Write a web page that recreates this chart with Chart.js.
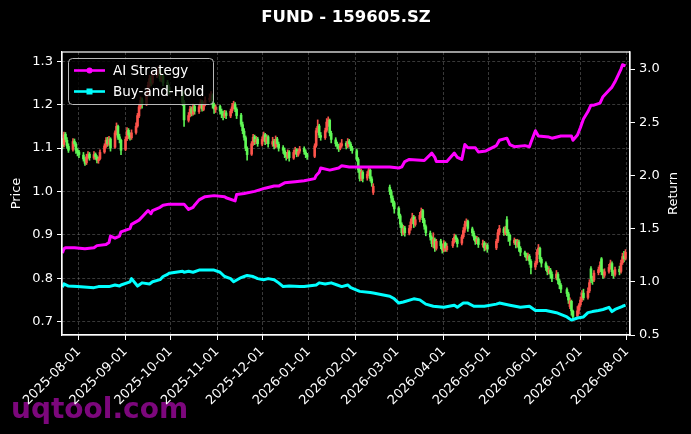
<!DOCTYPE html>
<html><head><meta charset="utf-8">
<script src="https://cdn.jsdelivr.net/npm/chart.js@4.4.1/dist/chart.umd.min.js"></script>
<style>html,body{margin:0;padding:0;background:#000;overflow:hidden}canvas{display:block}</style>
</head><body>
<div style="width:691px;height:434px"><canvas id="c" width="691" height="434"></canvas></div>
<script>
const chartTitle = 'FUND - 159605.SZ';
const watermark = 'uqtool.com';
const monthTicks = ['2025-08-01','2025-09-01','2025-10-01','2025-11-01','2025-12-01','2026-01-01','2026-02-01','2026-03-01','2026-04-01','2026-05-01','2026-06-01','2026-07-01','2026-08-01'];
const priceTicks = [0.7,0.8,0.9,1.0,1.1,1.2,1.3];
const returnTicks = [0.5,1.0,1.5,2.0,2.5,3.0];
const firstDay = '2025-07-21', lastDay = '2026-07-31';
const holidays = ['2025-10-01','2025-10-02','2025-10-03','2025-10-06','2025-10-07','2025-10-08','2026-01-01','2026-01-02','2026-02-16','2026-02-17','2026-02-18','2026-02-19','2026-02-20','2026-02-23','2026-04-06','2026-05-01','2026-05-04','2026-05-05','2026-06-19'];

const open = [
1.115,1.108,1.132,1.118,1.104, 1.097,1.116,1.109,1.094,1.091, 1.084,1.074,1.066,1.079,1.086, 1.077,1.086,1.079,1.071,1.076,
1.091,1.104,1.119,1.109,1.121, 1.102,1.134,1.150,1.126,1.118, 1.097,1.121,1.141,1.129,1.124, 1.136,1.151,1.174,1.196,1.211,
1.201,1.226,1.244,1.261,1.251, 1.268,1.271,1.281,1.259,1.266, 1.251,1.241, 1.228,1.206,
1.164,1.176,1.191,1.179,1.196, 1.184,1.196,1.206,1.189,1.201, 1.211,1.216,1.221,1.199,1.189, 1.196,1.184,1.179,1.174,1.181,
1.174,1.186,1.196,1.201,1.189, 1.176,1.154,1.139,1.124,1.099, 1.086,1.111,1.126,1.114,1.121, 1.109,1.121,1.131,1.114,1.126,
1.109,1.116,1.104,1.121,1.109, 1.101,1.094,1.084,1.079,1.091, 1.077,1.091,1.096,1.084,1.093, 1.099,1.091,1.084,
1.081,1.106,1.141,1.151,1.129, 1.124,1.141,1.161,1.164,1.134, 1.119,1.109,1.104,1.099,1.106, 1.111,1.104,1.116,1.109,1.099,
1.094,1.074,1.049,1.029,1.044, 1.031,1.041,1.049,1.029,0.998, 1.010,0.999,0.984,0.974,
0.961,0.944,0.924,0.904,0.916, 0.904,0.916,0.931,0.941,0.924, 0.936,0.946,0.956,0.934,0.919, 0.904,0.894,0.879,0.889,0.869,
0.886,0.874,0.864,0.881,0.866, 0.875,0.886,0.896,0.889, 0.881,0.896,0.911,0.926,0.931, 0.914,0.904,0.894,0.884,0.891,
0.877,0.881,0.869,0.876, 0.870,0.886,0.906, 0.914,0.904,0.935,0.906,0.899, 0.882,0.887,0.877,0.884,0.869,
0.859,0.854,0.847,0.851,0.839, 0.826,0.836,0.861,0.869,0.844, 0.834,0.824,0.814,0.819,0.809, 0.801,0.809,0.794,0.784,
0.774,0.764,0.735,0.747,0.724, 0.713,0.726,0.739,0.751,0.766, 0.756,0.771,0.822,0.799,0.796, 0.813,0.821,0.845,0.814,0.807,
0.816,0.826,0.834,0.814,0.809, 0.821,0.816,0.836,0.851,0.846];
const high = [
1.122,1.137,1.136,1.124,1.110, 1.122,1.121,1.113,1.099,1.095, 1.090,1.078,1.086,1.092,1.090, 1.092,1.089,1.083,1.080,1.096,
1.110,1.124,1.125,1.127,1.124, 1.140,1.158,1.153,1.132,1.121, 1.126,1.147,1.145,1.135,1.142, 1.158,1.180,1.202,1.218,1.216,
1.230,1.252,1.268,1.266,1.277, 1.278,1.288,1.284,1.272,1.270, 1.256,1.246, 1.232,1.210,
1.182,1.196,1.195,1.202,1.200, 1.200,1.212,1.210,1.207,1.218, 1.225,1.230,1.225,1.204,1.200, 1.199,1.190,1.185,1.187,1.186,
1.190,1.203,1.208,1.205,1.193, 1.180,1.160,1.145,1.128,1.103, 1.115,1.132,1.130,1.127,1.125, 1.126,1.137,1.134,1.131,1.129,
1.125,1.120,1.128,1.125,1.114, 1.106,1.100,1.090,1.096,1.094, 1.096,1.102,1.099,1.098,1.104, 1.103,1.096,1.088,
1.110,1.146,1.165,1.155,1.136, 1.146,1.168,1.172,1.167,1.139, 1.124,1.114,1.109,1.112,1.120, 1.115,1.122,1.120,1.113,1.104,
1.098,1.078,1.054,1.052,1.048, 1.046,1.056,1.052,1.034,1.018, 1.015,1.004,0.990,0.978,
0.965,0.948,0.928,0.922,0.920, 0.922,0.937,0.950,0.945,0.942, 0.952,0.962,0.959,0.938,0.923, 0.909,0.898,0.905,0.893,0.890,
0.890,0.879,0.887,0.884,0.880, 0.892,0.902,0.900,0.893, 0.900,0.917,0.932,0.937,0.934, 0.918,0.909,0.898,0.897,0.894,
0.888,0.885,0.882,0.880, 0.890,0.912,0.922, 0.918,0.920,0.942,0.912,0.902, 0.893,0.890,0.890,0.888,0.873,
0.863,0.858,0.858,0.855,0.843, 0.840,0.866,0.878,0.872,0.848, 0.838,0.829,0.827,0.823,0.815, 0.818,0.813,0.798,0.788,
0.778,0.768,0.755,0.750,0.727, 0.735,0.742,0.757,0.772,0.775, 0.778,0.797,0.827,0.805,0.818, 0.826,0.838,0.848,0.820,0.822,
0.832,0.842,0.838,0.818,0.826, 0.828,0.842,0.858,0.862,0.866];
const low = [
1.098,1.103,1.114,1.099,1.090, 1.093,1.104,1.088,1.082,1.078, 1.070,1.060,1.062,1.075,1.072, 1.074,1.074,1.066,1.065,1.073,
1.088,1.100,1.104,1.106,1.093, 1.099,1.130,1.120,1.112,1.085, 1.094,1.117,1.122,1.118,1.120, 1.132,1.148,1.170,1.190,1.192,
1.198,1.220,1.240,1.243,1.247, 1.262,1.266,1.254,1.253,1.244, 1.234,1.224, 1.198,1.150,
1.160,1.172,1.174,1.176,1.178, 1.180,1.192,1.185,1.186,1.197, 1.206,1.210,1.192,1.180,1.182, 1.178,1.170,1.165,1.170,1.168,
1.170,1.181,1.190,1.184,1.168, 1.150,1.133,1.118,1.094,1.072, 1.083,1.106,1.108,1.110,1.104, 1.105,1.116,1.108,1.110,1.102,
1.104,1.098,1.100,1.103,1.093, 1.088,1.078,1.072,1.076,1.070, 1.074,1.087,1.080,1.081,1.088, 1.086,1.078,1.074,
1.078,1.102,1.136,1.124,1.118, 1.120,1.137,1.150,1.128,1.112, 1.104,1.098,1.092,1.096,1.102, 1.098,1.101,1.104,1.094,1.088,
1.070,1.044,1.024,1.025,1.022, 1.026,1.036,1.024,1.012,0.993, 0.993,0.975,0.966,0.950,
0.938,0.917,0.898,0.900,0.897, 0.900,0.911,0.926,0.917,0.920, 0.930,0.940,0.928,0.913,0.898, 0.888,0.873,0.870,0.862,0.865,
0.868,0.858,0.861,0.862,0.862, 0.871,0.881,0.884,0.872, 0.877,0.892,0.906,0.920,0.908, 0.898,0.888,0.878,0.880,0.871,
0.872,0.863,0.865,0.860, 0.866,0.882,0.900, 0.899,0.900,0.898,0.885,0.876, 0.878,0.870,0.872,0.862,0.852,
0.849,0.841,0.842,0.832,0.810, 0.820,0.832,0.855,0.838,0.826, 0.818,0.808,0.810,0.800,0.792, 0.797,0.787,0.776,0.767,
0.758,0.742,0.730,0.715,0.705, 0.710,0.718,0.735,0.746,0.750, 0.752,0.767,0.790,0.786,0.792, 0.808,0.816,0.808,0.800,0.802,
0.812,0.821,0.806,0.800,0.805, 0.808,0.812,0.832,0.838,0.842];
const close = [
1.105,1.130,1.120,1.105,1.095, 1.115,1.110,1.095,1.090,1.085, 1.075,1.065,1.080,1.085,1.078, 1.085,1.080,1.072,1.075,1.090,
1.105,1.118,1.110,1.120,1.100, 1.135,1.150,1.125,1.120,1.095, 1.120,1.140,1.130,1.125,1.135, 1.150,1.175,1.195,1.210,1.200,
1.225,1.245,1.260,1.250,1.270, 1.270,1.280,1.260,1.265,1.250, 1.240,1.230, 1.205,1.165,
1.175,1.190,1.180,1.195,1.185, 1.195,1.205,1.190,1.200,1.210, 1.215,1.220,1.200,1.190,1.195, 1.185,1.180,1.175,1.180,1.175,
1.185,1.195,1.200,1.190,1.175, 1.155,1.140,1.125,1.100,1.085, 1.110,1.125,1.115,1.120,1.110, 1.120,1.130,1.115,1.125,1.110,
1.115,1.105,1.120,1.110,1.100, 1.095,1.085,1.080,1.090,1.078, 1.090,1.095,1.085,1.092,1.098, 1.092,1.085,1.080,
1.105,1.140,1.150,1.130,1.125, 1.140,1.160,1.165,1.135,1.120, 1.110,1.105,1.100,1.105,1.110, 1.105,1.115,1.110,1.100,1.095,
1.075,1.050,1.030,1.045,1.030, 1.040,1.050,1.030,1.020,1.012, 1.000,0.985,0.975,0.960,
0.945,0.925,0.905,0.915,0.905, 0.915,0.930,0.940,0.925,0.935, 0.945,0.955,0.935,0.920,0.905, 0.895,0.880,0.890,0.870,0.885,
0.875,0.865,0.880,0.870,0.874, 0.885,0.895,0.890,0.880, 0.895,0.910,0.925,0.930,0.915, 0.905,0.895,0.885,0.890,0.878,
0.880,0.870,0.875,0.868, 0.885,0.905,0.915, 0.905,0.915,0.905,0.900,0.888, 0.888,0.878,0.885,0.870,0.860,
0.855,0.848,0.852,0.840,0.825, 0.835,0.860,0.870,0.845,0.835, 0.825,0.815,0.820,0.810,0.800, 0.810,0.795,0.785,0.775,
0.765,0.750,0.748,0.725,0.712, 0.725,0.738,0.750,0.765,0.755, 0.770,0.790,0.800,0.795,0.812, 0.820,0.830,0.815,0.808,0.815,
0.825,0.835,0.815,0.810,0.820, 0.815,0.835,0.850,0.845,0.860];

const aiDates = ['2025-07-21','2025-07-22','2025-07-23','2025-07-29','2025-08-05','2025-08-11','2025-08-13','2025-08-19','2025-08-21','2025-08-22','2025-08-25','2025-08-28','2025-08-29','2025-09-04','2025-09-05','2025-09-10','2025-09-12','2025-09-16','2025-09-18','2025-09-19','2025-09-24','2025-09-26','2025-09-30','2025-10-10','2025-10-13','2025-10-16','2025-10-17','2025-10-20','2025-10-24','2025-10-30','2025-11-06','2025-11-07','2025-11-13','2025-11-14','2025-11-19','2025-11-26','2025-12-03','2025-12-09','2025-12-12','2025-12-16','2025-12-23','2025-12-29','2026-01-05','2026-01-06','2026-01-08','2026-01-09','2026-01-15','2026-01-21','2026-01-23','2026-01-28','2026-02-04','2026-02-13','2026-02-24','2026-03-02','2026-03-04','2026-03-06','2026-03-09','2026-03-19','2026-03-24','2026-03-26','2026-03-27','2026-04-03','2026-04-08','2026-04-10','2026-04-13','2026-04-15','2026-04-17','2026-04-22','2026-04-24','2026-04-29','2026-05-06','2026-05-08','2026-05-13','2026-05-15','2026-05-18','2026-05-25','2026-05-28','2026-05-29','2026-06-01','2026-06-03','2026-06-10','2026-06-12','2026-06-18','2026-06-25','2026-06-26','2026-06-29','2026-07-01','2026-07-03','2026-07-06','2026-07-08','2026-07-10','2026-07-14','2026-07-16','2026-07-20','2026-07-22','2026-07-24','2026-07-28','2026-07-29','2026-07-31'];
const aiReturn = [1.27,1.31,1.32,1.32,1.31,1.32,1.34,1.35,1.37,1.43,1.41,1.43,1.47,1.50,1.54,1.58,1.61,1.67,1.64,1.67,1.70,1.72,1.73,1.73,1.68,1.70,1.72,1.77,1.80,1.81,1.80,1.79,1.76,1.82,1.83,1.85,1.88,1.90,1.90,1.93,1.94,1.95,1.97,2.00,2.03,2.07,2.05,2.07,2.09,2.08,2.08,2.08,2.08,2.07,2.08,2.13,2.15,2.14,2.21,2.17,2.13,2.13,2.21,2.17,2.15,2.29,2.26,2.26,2.22,2.23,2.28,2.33,2.35,2.29,2.27,2.28,2.27,2.31,2.42,2.37,2.36,2.35,2.37,2.37,2.33,2.38,2.45,2.53,2.60,2.66,2.66,2.68,2.74,2.80,2.83,2.88,3.00,3.04,3.03];

const bhDates = ['2025-07-21','2025-07-22','2025-07-25','2025-07-31','2025-08-11','2025-08-14','2025-08-21','2025-08-25','2025-08-28','2025-08-29','2025-09-04','2025-09-05','2025-09-09','2025-09-10','2025-09-12','2025-09-17','2025-09-19','2025-09-24','2025-09-26','2025-09-29','2025-09-30','2025-10-09','2025-10-10','2025-10-13','2025-10-16','2025-10-20','2025-10-30','2025-11-03','2025-11-06','2025-11-10','2025-11-12','2025-11-17','2025-11-19','2025-11-21','2025-11-25','2025-11-28','2025-12-02','2025-12-05','2025-12-09','2025-12-12','2025-12-15','2025-12-19','2025-12-26','2025-12-29','2026-01-06','2026-01-08','2026-01-12','2026-01-16','2026-01-20','2026-01-23','2026-01-27','2026-01-29','2026-02-04','2026-02-11','2026-02-13','2026-02-24','2026-02-27','2026-03-02','2026-03-05','2026-03-12','2026-03-16','2026-03-20','2026-03-25','2026-04-01','2026-04-08','2026-04-10','2026-04-14','2026-04-17','2026-04-21','2026-04-28','2026-05-06','2026-05-08','2026-05-15','2026-05-22','2026-05-28','2026-06-01','2026-06-08','2026-06-15','2026-06-22','2026-06-25','2026-06-29','2026-07-03','2026-07-06','2026-07-09','2026-07-13','2026-07-16','2026-07-20','2026-07-22','2026-07-24','2026-07-29','2026-07-31'];
const bhReturn = [0.95,0.98,0.96,0.955,0.945,0.955,0.955,0.97,0.96,0.97,1.00,1.03,0.96,0.97,0.99,0.98,1.00,1.02,1.05,1.07,1.08,1.10,1.09,1.10,1.09,1.11,1.11,1.09,1.05,1.03,1.00,1.04,1.05,1.06,1.05,1.03,1.02,1.03,1.02,0.99,0.955,0.96,0.955,0.955,0.97,0.99,0.98,0.99,0.97,0.955,0.97,0.945,0.91,0.90,0.895,0.865,0.84,0.80,0.81,0.84,0.83,0.79,0.77,0.76,0.78,0.76,0.80,0.80,0.77,0.77,0.79,0.80,0.78,0.76,0.77,0.73,0.73,0.71,0.67,0.64,0.66,0.67,0.71,0.72,0.73,0.74,0.76,0.72,0.74,0.77,0.78];

const EPOCH = Date.UTC(2025,7,1);
function dayOf(s){const p=s.split('-').map(Number);return (Date.UTC(p[0],p[1]-1,p[2])-EPOCH)/86400000;}
function tradingDays(){
  const out=[]; let t=dayOf(firstDay)*86400000+EPOCH; const end=dayOf(lastDay)*86400000+EPOCH;
  while(t<=end){const d=new Date(t);const wd=d.getUTCDay();const s=d.toISOString().slice(0,10);
    if(wd>0&&wd<6&&!holidays.includes(s)) out.push(s); t+=86400000;}
  return out;
}
const days = tradingDays();
const n = Math.min(days.length, close.length);
const UP='rgba(255,84,76,0.95)', DOWN='rgba(96,250,86,0.95)';
const candleColors=[], wickData=[], bodyData=[];
for(let i=0;i<n;i++){
  const x=dayOf(days[i]);
  candleColors.push(close[i]>=open[i]?UP:DOWN);
  wickData.push({x, y:[low[i],high[i]]});
  bodyData.push({x, y:[open[i],close[i]]});
}
const tickVals = monthTicks.map(dayOf);

const FONT='"DejaVu Sans", sans-serif';
const decor = {
  id:'decor',
  beforeDraw(chart){
    const ctx=chart.ctx; ctx.save();
    ctx.fillStyle='#000'; ctx.fillRect(0,0,chart.width,chart.height);
    ctx.font='bold 28px '+FONT; ctx.fillStyle='rgba(135,8,135,0.92)';
    ctx.textAlign='left'; ctx.textBaseline='alphabetic';
    ctx.fillText(watermark, 11, 418);
    ctx.restore();
  },
  afterDatasetsDraw(chart){
    const {ctx, chartArea:a}=chart; ctx.save();
    ctx.strokeStyle='#fff'; ctx.lineWidth=1.2;
    ctx.strokeRect(a.left,a.top,a.right-a.left,a.bottom-a.top);
    const x=68.5,y=58.5,w=145,h=46,r=4;
    ctx.beginPath(); ctx.moveTo(x+r,y); ctx.arcTo(x+w,y,x+w,y+h,r); ctx.arcTo(x+w,y+h,x,y+h,r);
    ctx.arcTo(x,y+h,x,y,r); ctx.arcTo(x,y,x+w,y,r); ctx.closePath();
    ctx.fillStyle='rgba(0,0,0,0.8)'; ctx.fill(); ctx.strokeStyle='rgba(204,204,204,0.9)'; ctx.lineWidth=1; ctx.stroke();
    chart.data.datasets.filter(d=>d.type==='line').forEach((ds,i)=>{
      const yy=70.5+i*21;
      ctx.strokeStyle=ds.borderColor; ctx.lineWidth=2.6; ctx.beginPath(); ctx.moveTo(74,yy); ctx.lineTo(105,yy); ctx.stroke();
      ctx.fillStyle=ds.borderColor;
      if(i===0){ctx.beginPath(); ctx.arc(89.5,yy,3,0,Math.PI*2); ctx.fill();} else ctx.fillRect(86.5,yy-3,6,6);
      ctx.fillStyle='#fff'; ctx.font='13.5px '+FONT; ctx.textAlign='left'; ctx.textBaseline='middle';
      ctx.fillText(ds.label,113,yy+1);
    });
    ctx.restore();
  },
  afterDraw(chart){
    const {ctx, chartArea:a}=chart; ctx.save();
    ctx.fillStyle='#fff'; ctx.textAlign='center'; ctx.textBaseline='middle';
    ctx.font='bold 16.5px '+FONT; ctx.fillText(chartTitle,(a.left+a.right)/2,18);
    ctx.font='13px '+FONT;
    const cy=(a.top+a.bottom)/2;
    ctx.save(); ctx.translate(17,cy); ctx.rotate(-Math.PI/2); ctx.fillText('Price',0,0); ctx.restore();
    ctx.save(); ctx.translate(674,cy); ctx.rotate(-Math.PI/2); ctx.fillText('Return',0,0); ctx.restore();
    ctx.restore();
  }
};

const tickFont={family:FONT,size:13};
new Chart(document.getElementById('c'),{
  type:'bar',
  data:{datasets:[
    {type:'line',label:'AI Strategy',data:aiDates.map((s,i)=>({x:dayOf(s),y:aiReturn[i]})),yAxisID:'y1',borderColor:'#ff00ff',backgroundColor:'#ff00ff',borderWidth:3,pointRadius:0,tension:0,borderJoinStyle:'round',order:0},
    {type:'line',label:'Buy-and-Hold',data:bhDates.map((s,i)=>({x:dayOf(s),y:bhReturn[i]})),yAxisID:'y1',borderColor:'#00ffff',backgroundColor:'#00ffff',borderWidth:3,pointRadius:0,tension:0,borderJoinStyle:'round',order:1},
    {type:'bar',label:'body',data:bodyData,yAxisID:'y',backgroundColor:candleColors,barThickness:2,grouped:false,minBarLength:1,borderWidth:0,order:2},
    {type:'bar',label:'wick',data:wickData,yAxisID:'y',backgroundColor:candleColors,barThickness:1,grouped:false,borderWidth:0,order:3}
  ]},
  options:{
    responsive:false, animation:false, events:[],
    layout:{padding:{top:52,left:0,right:0,bottom:0}},
    plugins:{legend:{display:false},title:{display:false},tooltip:{enabled:false}},
    scales:{
      x:{type:'linear',min:-11.3,max:367,offset:false,
        afterBuildTicks:s=>{s.ticks=tickVals.map(v=>({value:v}));},
        afterFit:s=>{s.height=99;},
        ticks:{color:'#fff',font:tickFont,autoSkip:false,minRotation:45,maxRotation:45,padding:4,
          callback:v=>{const i=tickVals.indexOf(v);return i>=0?monthTicks[i]:'';}},
        grid:{offset:false,color:'rgba(128,128,128,0.55)',lineWidth:0.8,tickColor:'#fff',tickLength:5,tickWidth:1},
        border:{display:true,color:'#fff',width:1.2,dash:[3,2]}
      },
      y:{type:'linear',position:'left',min:0.6694,max:1.3214,
        afterBuildTicks:s=>{s.ticks=priceTicks.map(v=>({value:v}));},
        afterFit:s=>{s.width=62;},
        ticks:{color:'#fff',font:tickFont,padding:4,callback:v=>Number(v).toFixed(1)},
        grid:{color:'rgba(128,128,128,0.55)',lineWidth:0.8,tickColor:'#fff',tickLength:5,tickWidth:1},
        border:{display:true,color:'#fff',width:1.2,dash:[3,2]}
      },
      y1:{type:'linear',position:'right',min:0.5,max:3.16,
        afterBuildTicks:s=>{s.ticks=returnTicks.map(v=>({value:v}));},
        afterFit:s=>{s.width=61;},
        ticks:{color:'#fff',font:tickFont,padding:4,callback:v=>Number(v).toFixed(1)},
        grid:{drawOnChartArea:false,color:'#fff',tickColor:'#fff',tickLength:5,tickWidth:1},
        border:{display:true,color:'#fff',width:1.2}
      }
    }
  },
  plugins:[decor]
});
</script>
</body></html>
